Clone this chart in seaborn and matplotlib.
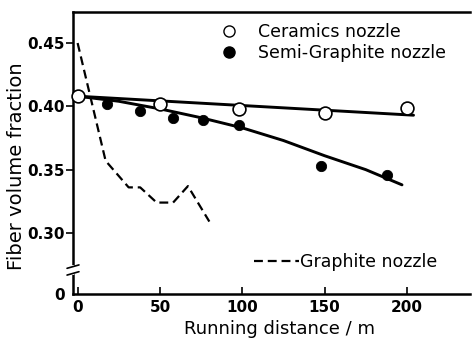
import matplotlib
matplotlib.use("Agg")
import matplotlib.pyplot as plt
import seaborn as sns
import pandas as pd
from matplotlib.lines import Line2D

# ---- data ----
ceramic_x = [0, 50, 98, 150, 200]
ceramic_y = [0.408, 0.402, 0.398, 0.395, 0.399]
ceramic_fit_x = [0, 204]
ceramic_fit_y = [0.408, 0.393]

semi_x = [18, 38, 58, 76, 98, 148, 188]
semi_y = [0.402, 0.396, 0.391, 0.389, 0.385, 0.353, 0.346]
semi_fit_x = [0, 25, 50, 75, 100, 125, 150, 175, 197]
semi_fit_y = [0.408, 0.404, 0.398, 0.391, 0.383, 0.373, 0.361, 0.350, 0.338]

graphite_x = [0, 17, 31, 38, 48, 58, 67, 80]
graphite_y = [0.450, 0.357, 0.336, 0.336, 0.324, 0.324, 0.337, 0.309]

x_ticks = [0, 50, 100, 150, 200]
x_tick_labels = ["0", "50", "100", "150", "200"]
y_ticks = [0.30, 0.35, 0.40, 0.45]
y_tick_labels = ["0.30", "0.35", "0.40", "0.45"]
y_bottom_label = "0"

sns.set_theme(style="ticks")
plt.rcParams['font.family'] = ['DejaVu Sans']
plt.rcParams['text.color'] = 'black'
plt.rcParams['axes.labelcolor'] = 'black'
plt.rcParams['xtick.color'] = 'black'
plt.rcParams['ytick.color'] = 'black'

fig = plt.figure(figsize=(4.72, 3.54), dpi=100)
ax = fig.add_axes([73/472, 1-294/354, (470-73)/472, (294-12)/354])

Y0 = 0.2518
ax.set_xlim(-2.8, 238.3)
ax.set_ylim(Y0, 0.4745)

df_cf = pd.DataFrame({"x": ceramic_fit_x, "y": ceramic_fit_y})
df_sf = pd.DataFrame({"x": semi_fit_x, "y": semi_fit_y})
df_g = pd.DataFrame({"x": graphite_x, "y": graphite_y})
df_c = pd.DataFrame({"x": ceramic_x, "y": ceramic_y})
df_s = pd.DataFrame({"x": semi_x, "y": semi_y})

sns.lineplot(data=df_cf, x="x", y="y", ax=ax, color="black", lw=2.1, sort=False)
sns.lineplot(data=df_sf, x="x", y="y", ax=ax, color="black", lw=2.1, sort=False)
sns.lineplot(data=df_g, x="x", y="y", ax=ax, color="black", lw=1.6, sort=False,
             linestyle=(0, (4, 2.2)))
sns.scatterplot(data=df_s, x="x", y="y", ax=ax, color="black", s=55,
                edgecolor="black", zorder=5)
sns.scatterplot(data=df_c, x="x", y="y", ax=ax, facecolor="white", s=85,
                edgecolor="black", linewidth=1.2, zorder=6)
for coll in ax.collections:
    coll.set_clip_on(False)

# spines
ax.spines["right"].set_visible(False)
for s in ["left", "top", "bottom"]:
    ax.spines[s].set_linewidth(1.8)
    ax.spines[s].set_color("black")

ax.set_xticks(x_ticks)
ax.set_xticklabels(x_tick_labels)
ax.set_yticks([Y0] + y_ticks)
ax.set_yticklabels([y_bottom_label] + y_tick_labels)
ax.tick_params(axis="x", direction="in", length=5, width=1.2, pad=4,
               labelsize=11, colors="black")
ax.tick_params(axis="y", direction="out", length=5, width=1.2, pad=1,
               labelsize=11, colors="black")
for lab in ax.get_xticklabels() + ax.get_yticklabels():
    lab.set_fontweight("bold")
    lab.set_family(["Liberation Sans Narrow", "DejaVu Sans"])
ax.yaxis.get_major_ticks()[0].tick1line.set_visible(False)

ax.set_xlabel("Running distance / m", fontsize=13, color="black")
ax.set_ylabel("Fiber volume fraction", fontsize=14, color="black")
ax.xaxis.set_label_coords((280-73)/397, (294-320)/282)
ax.xaxis.label.set_va("top")
ax.yaxis.set_label_coords((26-73)/397, (294-166)/282)

# axis break mark on left spine
yb = (294-270)/282
ax.plot([0, 0], [yb-0.012, yb+0.012], transform=ax.transAxes, color="white",
        lw=3, clip_on=False, zorder=7)
for dy in (-0.012, 0.012):
    ax.plot([-0.015, 0.015], [yb+dy-0.006, yb+dy+0.006], transform=ax.transAxes,
            color="black", lw=1.2, clip_on=False, zorder=8)

# legends
h1 = [Line2D([], [], marker="o", ls="none", mfc="white", mec="black", ms=8, mew=1.0),
      Line2D([], [], marker="o", ls="none", mfc="black", mec="black", ms=8)]
leg1 = ax.legend(h1, ["Ceramics nozzle", "Semi-Graphite nozzle"], loc="upper left",
                 bbox_to_anchor=((220.7-73)/397, (294-23)/282), frameon=False,
                 fontsize=12.5, borderpad=0, handlelength=1.0, handletextpad=1.15,
                 labelspacing=0.15, borderaxespad=0, labelcolor="black")
ax.add_artist(leg1)
h2 = [Line2D([], [], color="black", lw=1.6, ls=(0, (4, 2.2)))]
ax.legend(h2, ["Graphite nozzle"], loc="upper left",
          bbox_to_anchor=((254-73)/397, (294-253)/282), frameon=False,
          fontsize=12.5, borderpad=0, handlelength=2.6, handletextpad=0.05,
          borderaxespad=0, labelcolor="black")

fig.savefig("out.png", dpi=100)
